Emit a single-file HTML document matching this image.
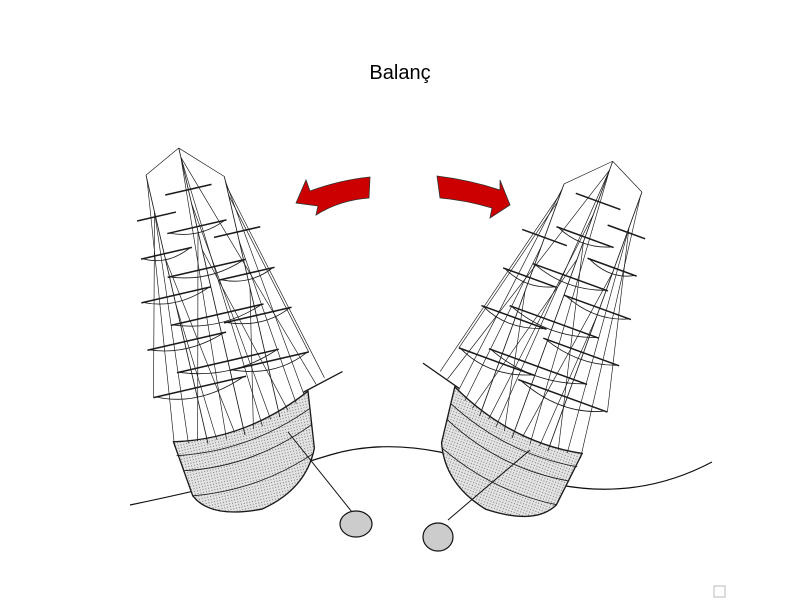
<!DOCTYPE html>
<html><head><meta charset="utf-8"><style>
html,body{margin:0;padding:0;background:#fff;width:800px;height:600px;overflow:hidden}
</style></head><body>
<svg width="800" height="600" viewBox="0 0 800 600" xmlns="http://www.w3.org/2000/svg">
<defs>
<pattern id="dots" width="3" height="3" patternUnits="userSpaceOnUse">
<rect width="3" height="3" fill="#e4e4e4"/><circle cx="1" cy="1" r="0.6" fill="#777"/>
</pattern>
<g id="ship" stroke="#1a1a1a" stroke-width="0.9" fill="none">
  <path d="M-75,-10 Q0,5 75,-30 L68,30 Q50,70 0,80 Q-55,78 -68,50 Z" fill="url(#dots)" stroke-width="1.4"/>
  <path d="M-75,5 Q0,18 73,-12" />
  <path d="M-72,22 Q0,35 71,5" />
  <path d="M-68,50 Q0,60 66,35" />
  <line x1="-40" y1="0" x2="-40" y2="-290"/>
  <line x1="0" y1="0" x2="0" y2="-310"/>
  <line x1="40" y1="-10" x2="40" y2="-270"/>
  <g stroke-width="1.6">
   <line x1="-85" y1="-60" x2="15" y2="-60"/><line x1="-80" y1="-110" x2="5" y2="-110"/>
   <line x1="-75" y1="-160" x2="0" y2="-160"/><line x1="-65" y1="-205" x2="-10" y2="-205"/>
   <line x1="-60" y1="-245" x2="-18" y2="-245"/>
   <line x1="-55" y1="-80" x2="55" y2="-80"/><line x1="-50" y1="-130" x2="50" y2="-130"/>
   <line x1="-42" y1="-180" x2="42" y2="-180"/><line x1="-32" y1="-225" x2="32" y2="-225"/>
   <line x1="-25" y1="-265" x2="25" y2="-265"/>
   <line x1="0" y1="-70" x2="85" y2="-70"/><line x1="5" y1="-120" x2="78" y2="-120"/>
   <line x1="10" y1="-165" x2="70" y2="-165"/><line x1="15" y1="-210" x2="65" y2="-210"/>
  </g>
  <path d="M-82,-60 Q-40,-40 12,-60 M-78,-110 Q-40,-95 3,-110 M-73,-160 Q-40,-145 -2,-160 M-63,-205 Q-40,-192 -12,-205"/>
  <path d="M-53,-80 Q0,-60 53,-80 M-48,-130 Q0,-112 48,-130 M-40,-180 Q0,-165 40,-180 M-30,-225 Q0,-212 30,-225"/>
  <path d="M2,-70 Q45,-52 83,-70 M7,-120 Q45,-105 76,-120 M12,-165 Q40,-152 68,-165"/>
  <g stroke-width="0.7">
   <line x1="-75" y1="-5" x2="-40" y2="-285"/><line x1="-60" y1="-5" x2="-40" y2="-250"/>
   <line x1="-20" y1="0" x2="0" y2="-300"/><line x1="20" y1="-5" x2="0" y2="-300"/>
   <line x1="70" y1="-28" x2="40" y2="-265"/><line x1="85" y1="-35" x2="0" y2="-300"/>
   <line x1="95" y1="-40" x2="40" y2="-260"/><line x1="-40" y1="-290" x2="0" y2="-310"/>
   <line x1="0" y1="-310" x2="40" y2="-270"/><line x1="-85" y1="-60" x2="-40" y2="-250"/>
   <line x1="85" y1="-70" x2="40" y2="-250"/><line x1="-10" y1="-5" x2="-40" y2="-200"/>
   <line x1="30" y1="-10" x2="0" y2="-250"/><line x1="50" y1="-15" x2="0" y2="-200"/>
   <line x1="-50" y1="-5" x2="0" y2="-220"/><line x1="60" y1="-20" x2="40" y2="-200"/>
   <line x1="-30" y1="-2" x2="-40" y2="-150"/><line x1="10" y1="-4" x2="40" y2="-150"/>
  </g>
  <line x1="70" y1="-30" x2="115" y2="-42" stroke-width="1.4"/>
</g>
</defs>
<text x="400" y="79" text-anchor="middle" font-family="Liberation Sans, sans-serif" font-size="20" fill="#000">Balanç</text>
<path d="M370,177 L369,198 Q340,200 316,215 L318,206 L296,203 L306,180 L310,191 Q340,180 370,177 Z" fill="#cc0000" stroke="#333" stroke-width="0.8"/>
<path d="M437,176 Q470,180 500,190 L500,180 L510,205 L490,218 L492,208 Q465,200 440,198 Z" fill="#cc0000" stroke="#333" stroke-width="0.8"/>
<path d="M130,505 Q250,480 330,455 Q380,440 440,452 Q500,470 560,485 Q640,500 712,462" stroke="#111" stroke-width="1.2" fill="none"/>
<g transform="translate(245,435) rotate(-13) scale(0.95)"><use href="#ship"/></g>
<g transform="translate(512,438) rotate(20) scale(-0.95,0.95)"><use href="#ship"/></g>
<line x1="288" y1="432" x2="352" y2="512" stroke="#111" stroke-width="1"/>
<line x1="530" y1="450" x2="448" y2="520" stroke="#111" stroke-width="1"/>
<ellipse cx="356" cy="524" rx="16" ry="13" fill="#ccc" stroke="#111" stroke-width="1.2"/>
<ellipse cx="438" cy="537" rx="15" ry="14" fill="#ccc" stroke="#111" stroke-width="1.2"/>
<rect x="714" y="586" width="11" height="11" fill="none" stroke="#bbb"/>
</svg>
</body></html>
